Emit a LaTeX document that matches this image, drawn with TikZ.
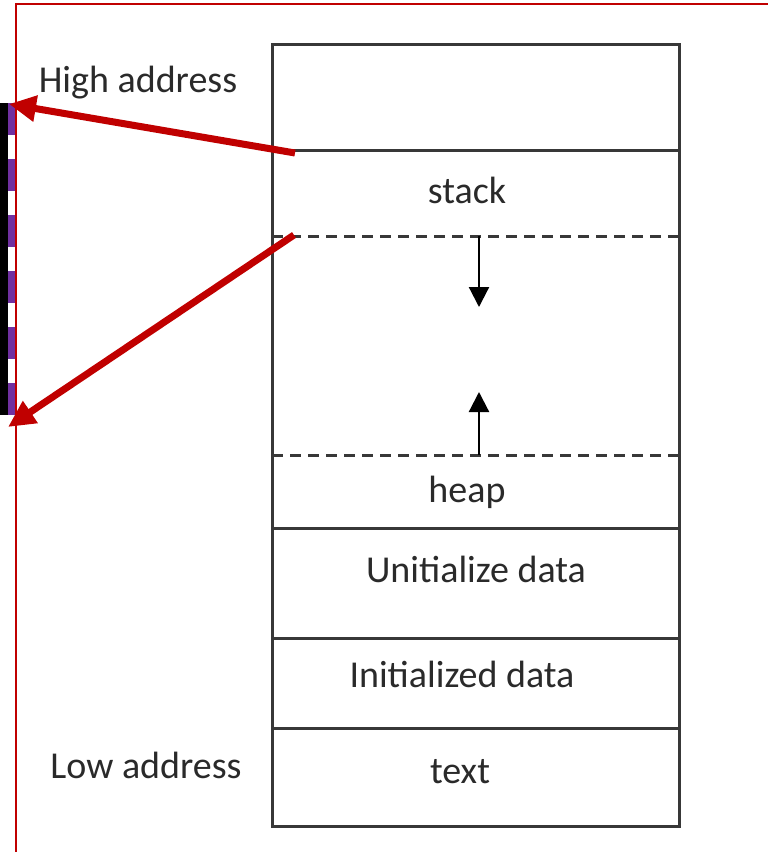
\documentclass[tikz,border=0pt]{standalone}
\usepackage{fontspec}
\setmainfont{Carlito}
\usetikzlibrary{arrows.meta}
\definecolor{framered}{HTML}{C00000}
\definecolor{boxgray}{HTML}{383838}
\definecolor{txtgray}{HTML}{2A2A2A}
\definecolor{barpurple}{HTML}{7030A0}

\begin{document}
\begin{tikzpicture}[x=1pt,y=-1pt,
  seg/.style={draw=boxgray, line width=3pt},
  bound/.style={draw=boxgray, line width=3pt, dash pattern=on 11pt off 7pt},
  lbl/.style={text=txtgray, font=\fontsize{38}{44}\selectfont, inner sep=0pt, anchor=base},
  pointer/.style={draw=framered, line width=7pt, -{Triangle[length=27pt,width=25pt]}},
  growarrow/.style={draw=black, line width=2.2pt, -{Triangle[length=20pt,width=20pt]}}
]
\useasboundingbox (0,0) rectangle (768,852);

% dashed marker bar on the left edge
\fill[black] (0,103) rectangle (8,415);
\foreach \y in {103,159,215,271,327,383}
  \fill[barpurple] (8,\y) rectangle (15,\y+32);

% frame lines
\draw[framered, line width=2pt] (16,852) -- (16,4) -- (768,4);

% memory layout column
\draw[seg] (272,44) rectangle (679,826);
\draw[seg] (272,150) -- (679,150);
\draw[bound] (272,236) -- (679,236);
\draw[bound] (272,455) -- (679,455);
\draw[seg] (272,528) -- (679,528);
\draw[seg] (272,638) -- (679,638);
\draw[seg] (272,728) -- (679,728);

% labels
\node[lbl] (high) at (138,92) {High address};
\node[lbl] (low) at (146,778) {Low address};
\node[lbl] (stack) at (467,203) {stack};
\node[lbl] (heap) at (467,502) {heap};
\node[lbl] (udata) at (476,582) {Unitialize data};
\node[lbl] (idata) at (462,687) {Initialized data};
\node[lbl] (textseg) at (460,783) {text};

% growth directions of stack and heap
\coordinate (stacktop) at (479,236);
\coordinate (stackgrow) at (479,307);
\coordinate (heaptop) at (479,455);
\coordinate (heapgrow) at (479,392);
\draw[growarrow] (stacktop) -- (stackgrow);
\draw[growarrow] (heaptop) -- (heapgrow);

% pointers to the marked range
\coordinate (p1) at (295,153);
\coordinate (t1) at (9,104);
\coordinate (p2) at (294,235);
\coordinate (t2) at (8,427);
\draw[pointer] (p1) -- (t1);
\draw[pointer] (p2) -- (t2);
\end{tikzpicture}
\end{document}
